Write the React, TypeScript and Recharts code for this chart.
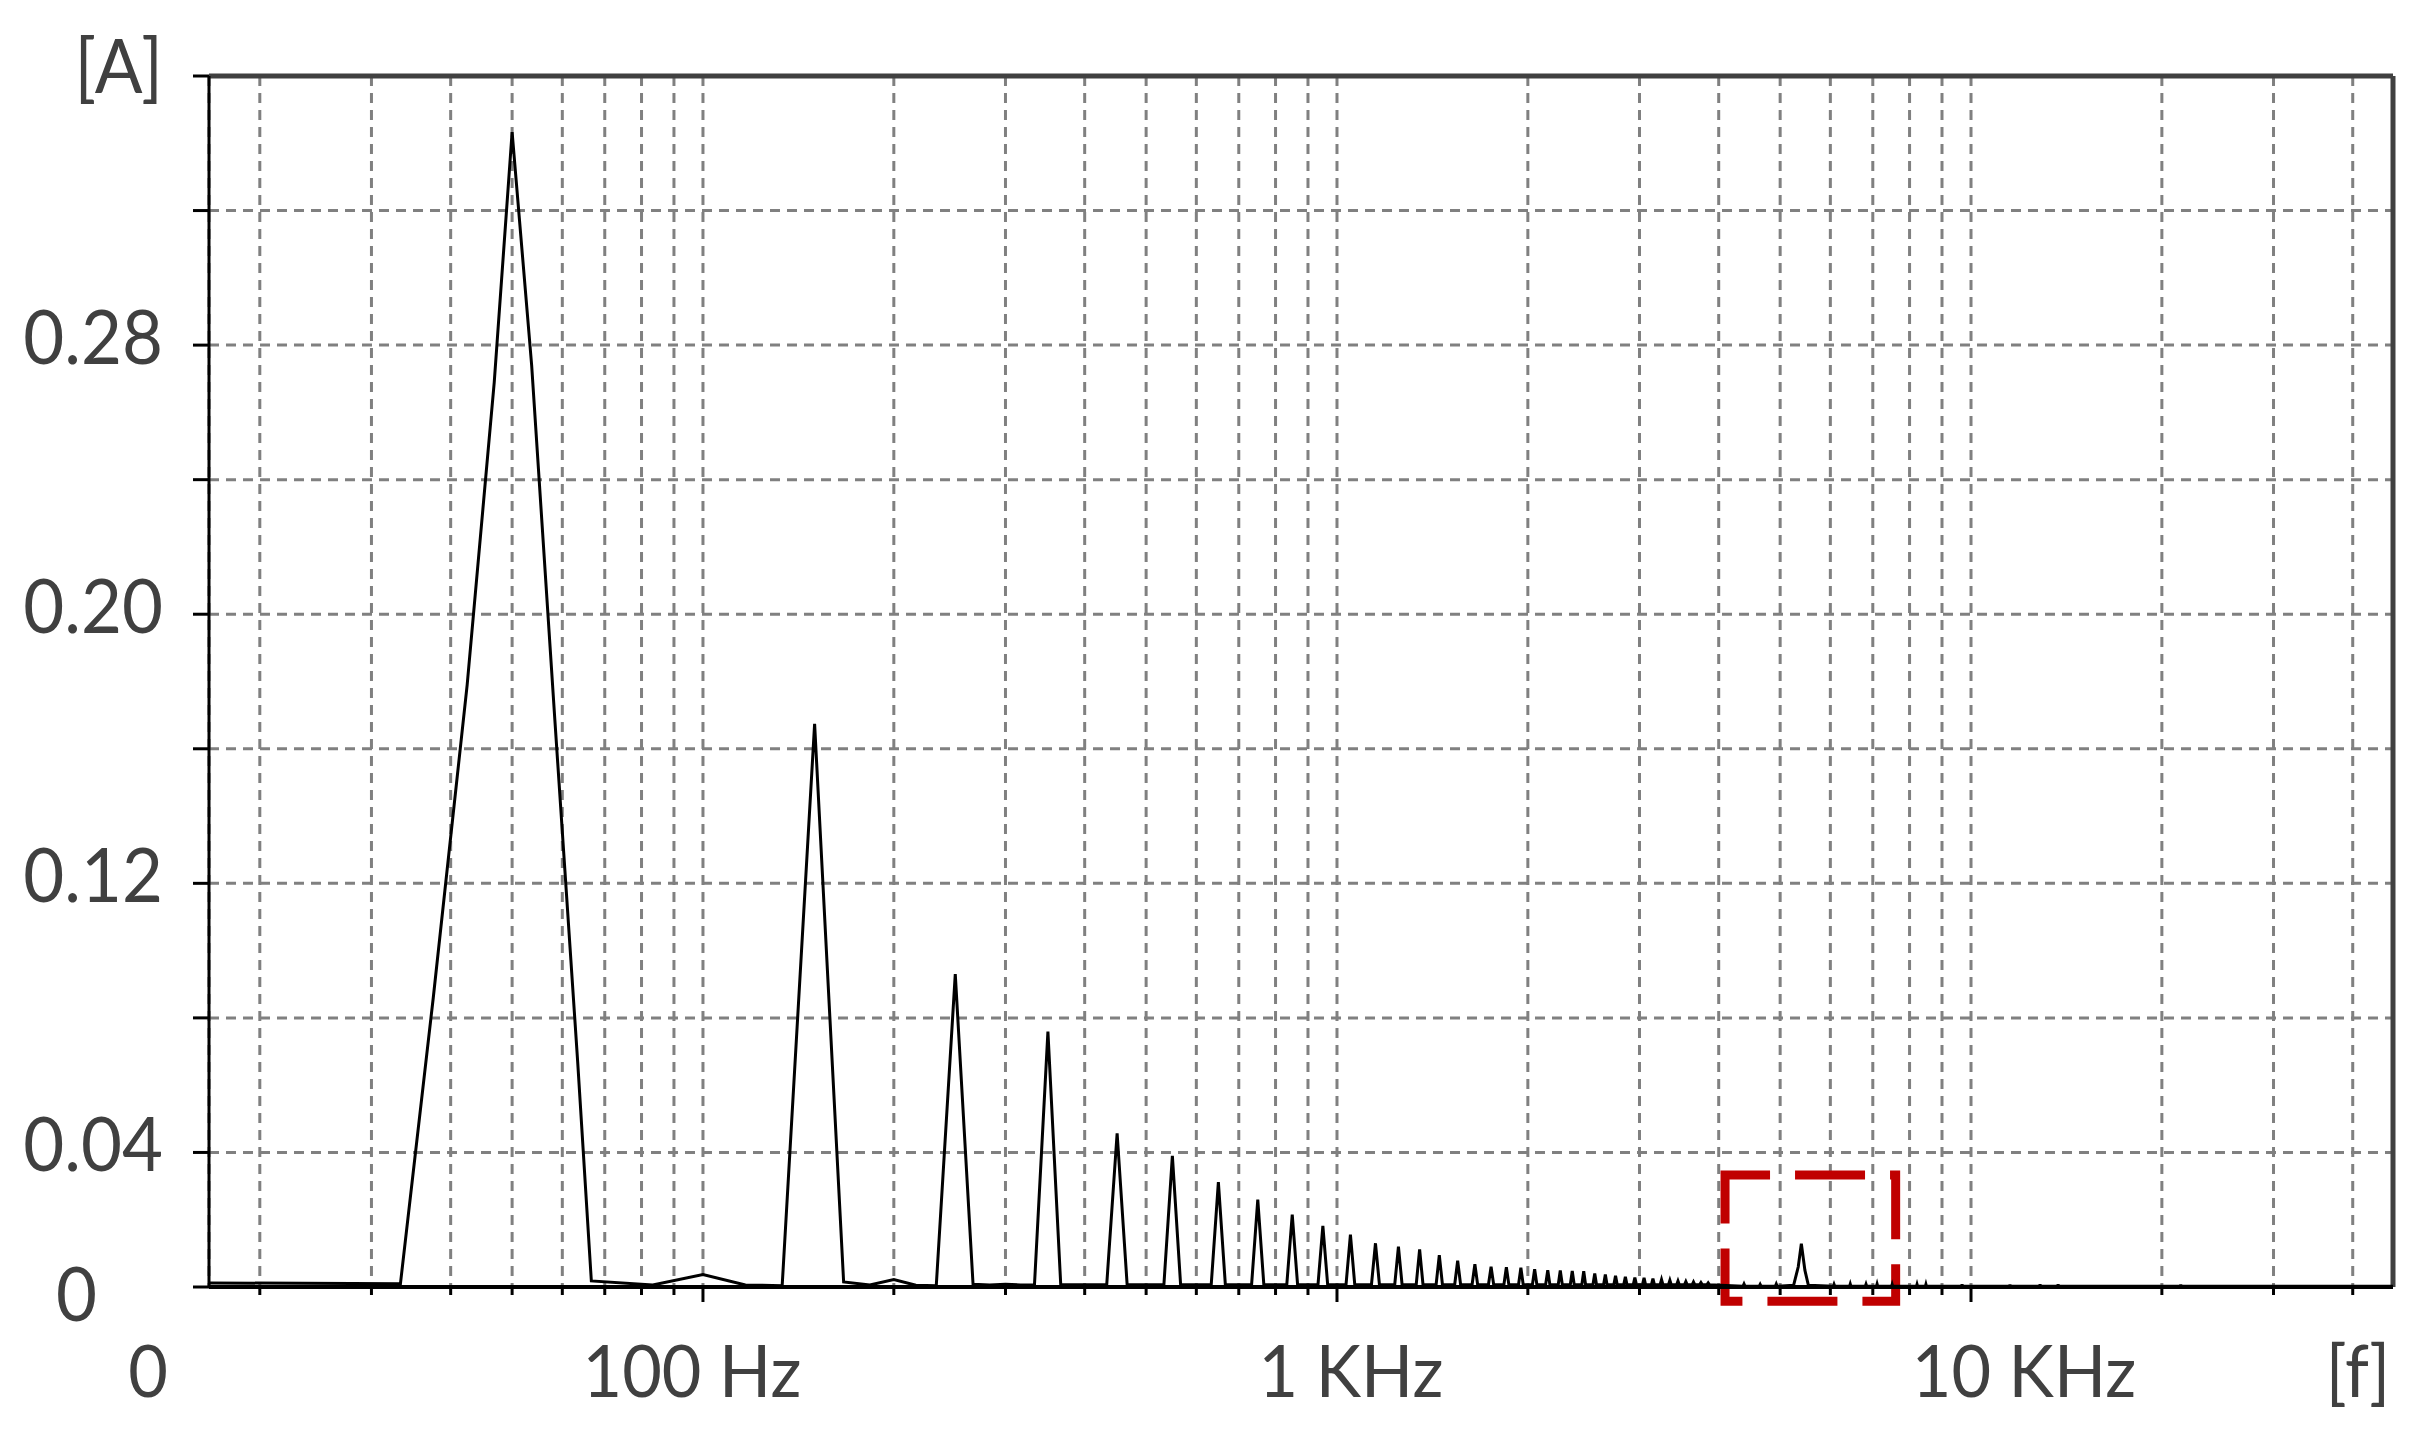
import React from "react";
import {
  LineChart,
  Line,
  XAxis,
  YAxis,
  CartesianGrid,
  ReferenceLine,
  ReferenceArea,
} from "recharts";

const FONT = "Lato, 'Open Sans', sans-serif";
const TEXT = "#404040";

// frequency axis (log), ends of the analyser window
const F_MIN = 16.63;
const F_MAX = 46300;
const BIN_HZ = 16.67;

const GRID_HZ = [
  20, 30, 40, 50, 60, 70, 80, 90, 100, 200, 300, 400, 500, 600, 700, 800, 900,
  1000, 2000, 3000, 4000, 5000, 6000, 7000, 8000, 9000, 10000, 20000, 30000, 40000,
];
const MAJOR_HZ = [100, 1000, 10000];
const X_LABEL_HZ = [F_MIN, 100, 1000, 10000, F_MAX];
const X_LABEL_TEXT = ["0", "100 Hz", "1 KHz", "10 KHz", "[f]"];
const X_LABEL_DX = [-61, -11, 14, 53, -35];

const Y_TICKS = [0, 0.04, 0.08, 0.12, 0.16, 0.2, 0.24, 0.28, 0.32, 0.36];
const Y_LABEL_VAL = [0, 0.04, 0.12, 0.2, 0.28, 0.36];
const Y_LABEL_TEXT = ["0", "0.04", "0.12", "0.20", "0.28", "[A]"];
const Y_LABEL_DX = [-66, 0, 0, 0, 0, 0];
const Y_LABEL_DY = [34, 19, 19, 19, 19, 17];

// 0 - 320 Hz read point by point (50 Hz flanks bend on the log axis)
const LOW_HZ = [
  16.67, 33.33, 37.55, 42.47, 46.86, 50, 53.68, 58.4, 63.44, 66.67, 83.33, 100,
  116.67, 133.33, 150, 166.67, 183.33, 200, 216.67, 233.33, 250, 266.67, 283.33,
  300, 316.67,
];
const LOW_A = [
  0.0012, 0.001, 0.086, 0.179, 0.269, 0.3433, 0.274, 0.1685, 0.067, 0.0018,
  0.0006, 0.0037, 0.0006, 0.0004, 0.1674, 0.0015, 0.0006, 0.0022, 0.0005,
  0.0004, 0.093, 0.0008, 0.0006, 0.0008, 0.0006,
];

// odd harmonics from 350 Hz, each one bin wide
const HARM_HZ = [
  350, 450, 550, 650, 750, 850, 950, 1050, 1150, 1250, 1350, 1450, 1550, 1650,
  1750, 1850, 1950, 2050, 2150, 2250, 2350, 2450, 2550, 2650, 2750, 2850, 2950,
  3050, 3150, 3250, 3350, 3450, 3550, 3650, 3750, 3850,
];
const HARM_A = [
  0.0759, 0.0457, 0.039, 0.0312, 0.026, 0.0215, 0.0182, 0.0156, 0.013, 0.012,
  0.0112, 0.0095, 0.0078, 0.0068, 0.006, 0.0059, 0.0057, 0.0053, 0.005, 0.0049,
  0.0048, 0.0047, 0.004, 0.0037, 0.0033, 0.003, 0.0028, 0.0027, 0.0025, 0.0022,
  0.002, 0.0018, 0.0016, 0.0015, 0.0013, 0.0012,
];
const HARM_FLOOR = 0.0007;

// small component inside the red box
const BOX_HZ = [5250, 5340, 5400, 5470, 5540];
const BOX_A = [0.0005, 0.006, 0.0129, 0.005, 0.0005];

// residual blips above 4 kHz
const BLIP_HZ = [
  4385, 4650, 4930, 6080, 6450, 6830, 7110, 7510, 8220, 8490, 9680, 11520,
  12850, 13720, 21420,
];
const BLIP_A = [
  0.0009, 0.0008, 0.0009, 0.0008, 0.0009, 0.0008, 0.0009, 0.0008, 0.0008,
  0.0008, 0.0008, 0.0007, 0.0008, 0.0008, 0.0008,
];
const BLIP_FLOOR = 0.0002;

function buildSpectrum() {
  const pts = LOW_HZ.map((f, i) => ({ f, a: LOW_A[i] }));
  HARM_HZ.forEach((f, i) => {
    pts.push({ f: f - BIN_HZ, a: HARM_FLOOR });
    pts.push({ f, a: HARM_A[i] });
    pts.push({ f: f + BIN_HZ, a: HARM_FLOOR });
  });
  BOX_HZ.forEach((f, i) => pts.push({ f, a: BOX_A[i] }));
  BLIP_HZ.forEach((f, i) => {
    pts.push({ f: f - BIN_HZ, a: BLIP_FLOOR });
    pts.push({ f, a: BLIP_A[i] });
    pts.push({ f: f + BIN_HZ, a: BLIP_FLOOR });
  });
  pts.push({ f: F_MAX, a: BLIP_FLOOR });
  return pts.sort((p, q) => p.f - q.f);
}

const DATA = buildSpectrum();

const XTick = (props: any) => {
  const { x, y, payload } = props;
  const v = payload.value;
  const li = X_LABEL_HZ.indexOf(v);
  const isGrid = GRID_HZ.includes(v);
  const len = MAJOR_HZ.includes(v) ? 15 : 8;
  return (
    <g>
      {isGrid && (
        <line x1={x} y1={y} x2={x} y2={y + len} stroke="#000" strokeWidth={3} />
      )}
      {li >= 0 && (
        <g transform={`translate(${x + X_LABEL_DX[li]},${y + 110}) scale(0.95,1)`}>
          <text textAnchor="middle" fontFamily={FONT} fontSize={72} fill={TEXT}>
            {X_LABEL_TEXT[li]}
          </text>
        </g>
      )}
    </g>
  );
};

const YTick = (props: any) => {
  const { x, y, payload } = props;
  const li = Y_LABEL_VAL.findIndex((v) => Math.abs(v - payload.value) < 1e-9);
  if (li < 0) return <g />;
  return (
    <g
      transform={`translate(${x + Y_LABEL_DX[li]},${y + Y_LABEL_DY[li]}) scale(0.93,1)`}
    >
      <text textAnchor="end" fontFamily={FONT} fontSize={76} fill={TEXT}>
        {Y_LABEL_TEXT[li]}
      </text>
    </g>
  );
};

export default function App() {
  return (
    <div
      style={{
        position: "absolute",
        left: 0,
        top: 0,
        width: 2436,
        height: 1440,
        background: "#fff",
      }}
    >
      <LineChart
        width={2436}
        height={1440}
        data={DATA}
        margin={{ top: 76, right: 43, bottom: 33, left: 59 }}
      >
        <CartesianGrid
          stroke="#808080"
          strokeWidth={3}
          strokeDasharray="10 7"
        />
        <XAxis
          dataKey="f"
          type="number"
          scale="log"
          domain={[F_MIN, F_MAX]}
          allowDataOverflow
          ticks={[F_MIN, ...GRID_HZ, F_MAX]}
          interval={0}
          height={120}
          tickSize={0}
          tickMargin={0}
          tickLine={false}
          axisLine={{ stroke: "#000", strokeWidth: 4 }}
          tick={<XTick />}
        />
        <YAxis
          type="number"
          domain={[0, 0.36]}
          ticks={Y_TICKS}
          interval={0}
          width={150}
          tickSize={16}
          tickMargin={30}
          tickLine={{ stroke: "#000", strokeWidth: 3 }}
          axisLine={{ stroke: "#000", strokeWidth: 3 }}
          tick={<YTick />}
        />
        <ReferenceLine y={0.36} stroke="#404040" strokeWidth={5} ifOverflow="visible" />
        <ReferenceLine x={F_MAX} stroke="#404040" strokeWidth={5} ifOverflow="visible" />
        <Line
          dataKey="a"
          type="linear"
          stroke="#000"
          strokeWidth={3}
          dot={false}
          isAnimationActive={false}
        />
        <ReferenceArea
          x1={4093}
          x2={7606}
          y1={-0.0042}
          y2={0.0333}
          ifOverflow="visible"
          fill="none"
          fillOpacity={0}
          stroke="#C00000"
          strokeWidth={9}
          strokeDasharray="70 25"
          strokeDashoffset={25}
        />
      </LineChart>
    </div>
  );
}
